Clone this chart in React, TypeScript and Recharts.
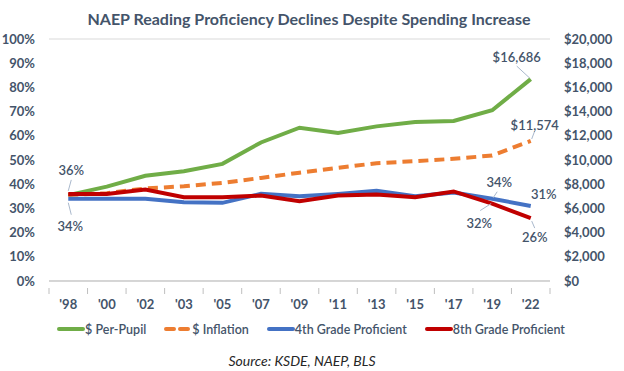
import { LineChart, Line, XAxis, YAxis, CartesianGrid, LabelList } from 'recharts';

const years = ["'98", "'00", "'02", "'03", "'05", "'07", "'09", "'11", "'13", "'15", "'17", "'19", "'22"];
const perPupil = [7100, 7800, 8700, 9070, 9680, 11450, 12670, 12230, 12780, 13140, 13220, 14110, 16686];
const inflation = [7100, 7250, 7650, 7830, 8110, 8520, 8950, 9350, 9740, 9900, 10100, 10370, 11574];
const grade4 = [34, 34, 34, 32.5, 32.3, 36, 35, 36, 37.3, 35, 36.6, 34, 31];
const grade8 = [36, 36, 37.8, 34.6, 34.6, 35.3, 33, 35.3, 35.7, 34.6, 37, 32, 26];
const pctTicks = [0, 10, 20, 30, 40, 50, 60, 70, 80, 90, 100];
const dollarTicks = [0, 2000, 4000, 6000, 8000, 10000, 12000, 14000, 16000, 18000, 20000];

const data = years.map((year, i) => ({
  year,
  perPupil: perPupil[i],
  inflation: inflation[i],
  grade4: grade4[i],
  grade8: grade8[i],
}));

const TEXT = '#44546A';
const FONT = 'Lato, "Noto Sans", sans-serif';
const GREEN = '#70AD47';
const ORANGE = '#ED7D31';
const BLUE = '#4472C4';
const RED = '#C00000';
const LEADER = '#A9B8CC';
const HALF_BAND = 501 / 13 / 2;

const series = [
  { key: 'perPupil', name: '$ Per-Pupil', color: GREEN, axis: 'right', dash: undefined },
  { key: 'inflation', name: '$ Inflation', color: ORANGE, axis: 'right', dash: '10 6' },
  { key: 'grade4', name: '4th Grade Proficient', color: BLUE, axis: 'left', dash: undefined },
  { key: 'grade8', name: '8th Grade Proficient', color: RED, axis: 'left', dash: undefined },
];

// label placement (relative to the point) and leader line, by series and index
type Spec = { tx: number; ty: number; leader?: [number, number, number, number] };
const labelSpecs: Record<string, Record<number, Spec>> = {
  perPupil: { 12: { tx: -14, ty: -22, leader: [-14, -13, -1, -1] } },
  inflation: { 12: { tx: 4, ty: -16, leader: [4, -10, 1, -2] } },
  grade4: {
    0: { tx: 2, ty: 27, leader: [3, 16, 0, 4] },
    11: { tx: 7, ty: -17, leader: [5, -7, 1, -1] },
    12: { tx: 13, ty: -12 },
  },
  grade8: {
    0: { tx: 3, ty: -24, leader: [3, -14, 0, -3] },
    11: { tx: -13, ty: 19, leader: [-12, 7, -1, 0] },
    12: { tx: 4, ty: 19, leader: [4, 10, 1, 3] },
  },
};

const fmtDollar = (v: number) => '$' + v.toLocaleString('en-US');
const fmtPct = (v: number) => `${Math.round(v)}%`;

function makeLabel(key: string, fmt: (v: number) => string) {
  return (props: any) => {
    const spec = labelSpecs[key][props.index];
    if (!spec) return null;
    const { x, y, value } = props;
    return (
      <g key={`${key}-${props.index}`}>
        {spec.leader && (
          <line
            x1={x + spec.leader[0]}
            y1={y + spec.leader[1]}
            x2={x + spec.leader[2]}
            y2={y + spec.leader[3]}
            stroke={LEADER}
            strokeWidth={1}
          />
        )}
        <text
          x={x + spec.tx}
          y={y + spec.ty}
          textAnchor="middle"
          dominantBaseline="central"
          fill={TEXT}
          fontFamily={FONT}
          fontSize={13}
          fontWeight={600}
        >
          {fmt(value)}
        </text>
      </g>
    );
  };
}

function XTick(props: any) {
  const { x, y, payload, index } = props;
  const last = index === years.length - 1;
  return (
    <g>
      <line x1={x - HALF_BAND} y1={y - 1} x2={x - HALF_BAND} y2={y + 5} stroke="#BFBFBF" />
      {last && <line x1={x + HALF_BAND} y1={y - 1} x2={x + HALF_BAND} y2={y + 5} stroke="#BFBFBF" />}
      <text x={x} y={y + 20} textAnchor="middle" fill={TEXT} fontFamily={FONT} fontSize={13} fontWeight={700}>
        {payload.value}
      </text>
    </g>
  );
}

const tickStyle = { fill: TEXT, fontFamily: FONT, fontSize: 13, fontWeight: 700 };

export default function App() {
  return (
    <div style={{ position: 'absolute', left: 0, top: 0, width: 624, height: 371, background: '#fff', fontFamily: FONT }}>
      <div
        style={{
          position: 'absolute',
          top: 9,
          left: 0,
          width: 618,
          textAlign: 'center',
          fontSize: 16,
          fontWeight: 700,
          color: TEXT,
        }}
      >
        NAEP Reading Proficiency Declines Despite Spending Increase
      </div>
      <LineChart width={624} height={371} data={data} margin={{ top: 39, right: 0, bottom: 60, left: 0 }}>
        <CartesianGrid vertical={false} stroke="#D9D9D9" />
        <XAxis
          dataKey="year"
          height={30}
          padding={{ left: HALF_BAND, right: HALF_BAND }}
          stroke="#BFBFBF"
          tickLine={false}
          tick={<XTick />}
          interval={0}
        />
        <YAxis
          yAxisId="left"
          width={49}
          domain={[0, 100]}
          ticks={pctTicks}
          tickFormatter={(v) => `${v}%`}
          axisLine={false}
          tickLine={false}
          tickMargin={8}
          tick={tickStyle}
        />
        <YAxis
          yAxisId="right"
          orientation="right"
          width={74}
          domain={[0, 20000]}
          ticks={dollarTicks}
          tickFormatter={fmtDollar}
          axisLine={false}
          tickLine={false}
          tickMargin={8}
          tick={{ ...tickStyle, textAnchor: 'start' }}
        />
        {series.map((s) => (
          <Line
            key={s.key}
            yAxisId={s.axis}
            dataKey={s.key}
            stroke={s.color}
            strokeWidth={4}
            strokeDasharray={s.dash}
            dot={false}
            isAnimationActive={false}
          >
            <LabelList dataKey={s.key} content={makeLabel(s.key, s.axis === 'right' ? fmtDollar : fmtPct)} />
          </Line>
        ))}
      </LineChart>
      <div
        style={{
          position: 'absolute',
          top: 321,
          left: 0,
          width: 622,
          display: 'flex',
          justifyContent: 'center',
          gap: 18,
          fontSize: 12.5,
          fontWeight: 600,
          color: TEXT,
        }}
      >
        {series.map((s) => (
          <div key={s.key} style={{ display: 'flex', alignItems: 'center' }}>
            <svg width={28} height={16}>
              <line
                x1={2}
                y1={8}
                x2={26}
                y2={8}
                stroke={s.color}
                strokeWidth={4}
                strokeLinecap="round"
                strokeDasharray={s.dash ? '8 6' : undefined}
              />
            </svg>
            <span>{s.name}</span>
          </div>
        ))}
      </div>
      <div
        style={{
          position: 'absolute',
          top: 352,
          left: 0,
          width: 604,
          textAlign: 'center',
          fontSize: 14,
          fontStyle: 'italic',
          color: '#262626',
        }}
      >
        Source: KSDE, NAEP, BLS
      </div>
    </div>
  );
}
